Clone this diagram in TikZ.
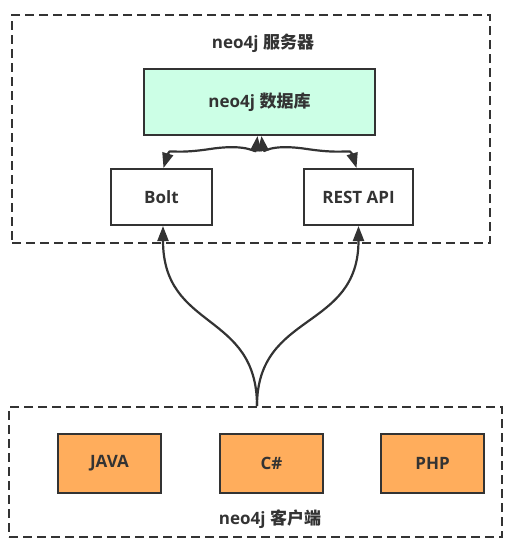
\documentclass[tikz,border=0pt]{standalone}
\usepackage{fontspec}
\setmainfont{Open Sans}
\newfontfamily\cjk{Noto Sans CJK SC Bold}
\usetikzlibrary{arrows.meta}
\definecolor{ink}{HTML}{333333}
\definecolor{mint}{HTML}{CCFFE6}
\definecolor{orng}{HTML}{FFAD5C}
\begin{document}
\begin{tikzpicture}[x=1pt,y=-1pt,
  txt/.style={font=\bfseries\fontsize{17}{20}\selectfont, text=ink},
  box/.style={draw=ink, line width=2pt, fill=white, txt, inner sep=0pt, anchor=north west},
  group/.style={draw=ink, line width=2pt, dash pattern=on 9pt off 5pt, inner sep=0pt, anchor=north west},
  conn/.style={draw=ink, line width=2.2pt},
  tip/.style={-{Triangle[length=15pt,width=11pt]}},
  tips/.style={{Triangle[length=15pt,width=11pt]}-{Triangle[length=15pt,width=11pt]}}]
\useasboundingbox (0,0) rectangle (505,541);
% groups
\node[group, minimum width=478pt, minimum height=228pt] (server) at (11,14) {};
\node[group, minimum width=493pt, minimum height=130pt] (client) at (8,406) {};
\node[txt] (servert) at (263,43) {neo4j {\cjk 服务器}};
\node[txt] (clientt) at (270,519) {neo4j {\cjk 客户端}};
% server nodes
\node[box, fill=mint, minimum width=231pt, minimum height=66pt] (db) at (143,68) {neo4j {\cjk 数据库}};
\node[box, minimum width=101pt, minimum height=56pt] (bolt) at (110,168) {Bolt};
\node[box, minimum width=109pt, minimum height=56pt] (rest) at (303,168) {REST API};
% client nodes
\node[box, fill=orng, minimum width=103pt, minimum height=59pt] (java) at (57,433) {JAVA};
\node[box, fill=orng, minimum width=103pt, minimum height=59pt] (cs) at (219,433) {C\#};
\node[box, fill=orng, minimum width=103pt, minimum height=59pt] (php) at (380,433) {PHP};
% client to server
\draw[conn, tip] ([xshift=1.5pt]client.north) .. controls +(0,-95) and +(0,105) .. ([xshift=1.5pt]bolt.south);
\draw[conn, tip] ([xshift=1.5pt]client.north) .. controls +(0,-95) and +(0,105) .. (rest.south);
% bolt/rest to db
\draw[conn, tips] ([xshift=2pt]bolt.north) .. controls +(6,-20) and +(-40,6) .. (210,149) .. controls +(40,-6) and +(-2,18) .. ([xshift=-2pt]db.south);
\draw[conn, tips] ([xshift=-2pt]rest.north) .. controls +(-6,-20) and +(40,6) .. (307,149) .. controls +(-40,-6) and +(2,18) .. ([xshift=2pt]db.south);
\end{tikzpicture}
\end{document}
